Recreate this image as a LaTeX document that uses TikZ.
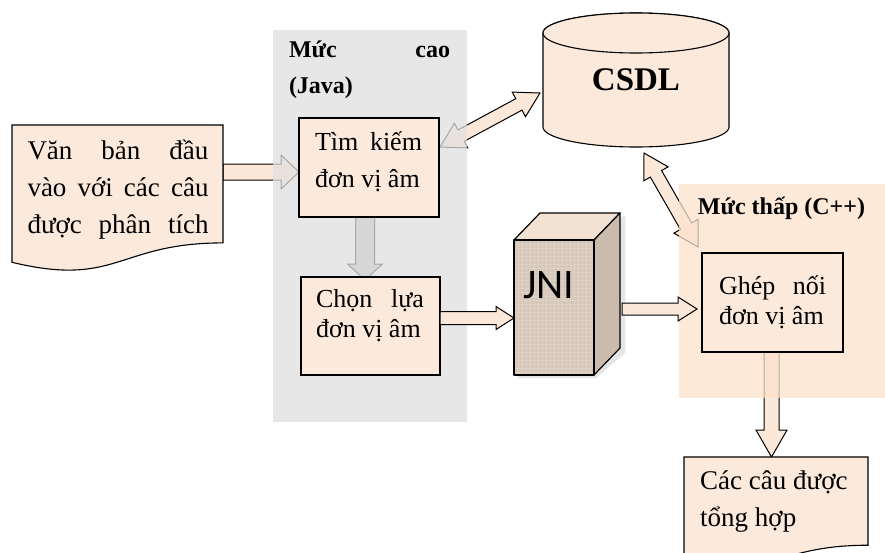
\documentclass[tikz,border=0pt]{standalone}
\usepackage{fontspec}
\setmainfont{Liberation Serif}
\newfontfamily\jnifont{Carlito}
\usetikzlibrary{calc}

\pgfdeclarelayer{under}
\pgfdeclarelayer{veil}
\pgfsetlayers{under,veil,main}

\definecolor{boxfill}{HTML}{FBEADC}
\definecolor{arrowfill}{HTML}{FCE8D8}
\definecolor{arrowgray}{RGB}{185,185,185}
\definecolor{javaveil}{RGB}{224,224,224}
\definecolor{cppveil}{RGB}{252,226,204}
\definecolor{jnifront}{HTML}{D6C7B9}
\definecolor{jnitop}{HTML}{F1E1D3}
\definecolor{jniside}{HTML}{CBBBAD}

% block arrow: [style]{from}{to}{shaft half width}{head half width}{head length}
\newcommand\blockarrow[6][]{%
  \draw[#1] let \p1=($(#3)-(#2)$), \n1={atan2(\y1,\x1)}, \n2={veclen(\x1,\y1)} in
    ($(#2)+(\n1+90:#4pt)$)
    -- ($(#2)+(\n1:{\n2-#6pt})+(\n1+90:#4pt)$)
    -- ($(#2)+(\n1:{\n2-#6pt})+(\n1+90:#5pt)$)
    -- (#3)
    -- ($(#2)+(\n1:{\n2-#6pt})+(\n1-90:#5pt)$)
    -- ($(#2)+(\n1:{\n2-#6pt})+(\n1-90:#4pt)$)
    -- ($(#2)+(\n1-90:#4pt)$) -- cycle;}

% two-headed block arrow, same arguments
\newcommand\dblarrow[6][]{%
  \draw[#1] let \p1=($(#3)-(#2)$), \n1={atan2(\y1,\x1)}, \n2={veclen(\x1,\y1)} in
    (#2)
    -- ($(#2)+(\n1:#6pt)+(\n1+90:#5pt)$)
    -- ($(#2)+(\n1:#6pt)+(\n1+90:#4pt)$)
    -- ($(#2)+(\n1:{\n2-#6pt})+(\n1+90:#4pt)$)
    -- ($(#2)+(\n1:{\n2-#6pt})+(\n1+90:#5pt)$)
    -- (#3)
    -- ($(#2)+(\n1:{\n2-#6pt})+(\n1-90:#5pt)$)
    -- ($(#2)+(\n1:{\n2-#6pt})+(\n1-90:#4pt)$)
    -- ($(#2)+(\n1:#6pt)+(\n1-90:#4pt)$)
    -- ($(#2)+(\n1:#6pt)+(\n1-90:#5pt)$)
    -- cycle;}

% document outline with a wavy bottom edge around a named node
\newcommand\docshape[2]{%
  \draw[#1] (#2.north west) -- (#2.north east)
    -- ($(#2.north east)!0.802!(#2.south east)$)
    .. controls ($(#2.north)!0.802!(#2.south)$) and ($(#2.north)!1.107!(#2.south)$)
    .. ($(#2.north west)!0.934!(#2.south west)$) -- cycle;}

\begin{document}
\begin{tikzpicture}[x=1pt,y=-1pt,
  box/.style={draw=black, line width=1.1pt, fill=boxfill},
  frame/.style={inner sep=0pt, outer sep=0pt},
  txt/.style={font=\fontsize{27}{37}\selectfont, align=left, inner sep=0pt},
  txtbox/.style={font=\fontsize{26}{37}\selectfont, align=left, inner sep=0pt},
  txtsm/.style={font=\fontsize{26}{30}\selectfont, align=left, inner sep=0pt},
  heading/.style={font=\bfseries\fontsize{24}{36}\selectfont, align=left, inner sep=0pt},
  blk/.style={draw=black, line width=1pt, line join=miter, fill=arrowfill},
  blkgray/.style={draw=black, line width=1pt, line join=miter, fill=arrowgray},
  solid3d/.style={draw=black, line width=1.2pt, line join=round},
  jnigrid/.style={white, line width=0.4pt, opacity=0.15},
]
\useasboundingbox (0,0) rectangle (885,552);

% frames that the shapes are drawn on
\node[frame, minimum width=211pt, minimum height=147pt] (indoc) at (117.5,198.5) {};
\node[frame, minimum width=184pt, minimum height=110pt] (cc) at (776,512) {};
\node[frame, minimum width=186pt, minimum height=134pt] (db) at (636,80) {};
\node[frame, minimum width=80pt, minimum height=135pt] (jni) at (554,307.5) {};

% process boxes
\node[box, frame, minimum width=140pt, minimum height=99pt] (tk) at (369,167.5) {};
\node[box, frame, minimum width=139pt, minimum height=98pt] (cl) at (370.5,326) {};
\node[box, frame, minimum width=141pt, minimum height=99pt] (gh) at (772.5,302.5) {};

% arrow end points
\coordinate (a1s) at ($(indoc.east |- tk.west)+(0,4.5)$);
\coordinate (a1e) at ($(tk.west)+(0,4.5)$);
\coordinate (a2s) at ($(tk.south)+(-4,0)$);
\coordinate (a2e) at ($(a2s |- cl.north)+(0,3)$);
\coordinate (a3s) at ($(cl.east)+(0,-8)$);
\coordinate (a3e) at (jni.west |- a3s);
\coordinate (a4e) at ($(gh.west)+(-5,6.5)$);
\coordinate (a4s) at ($(jni.east |- a4e)+(28,0)$);
\coordinate (a5s) at ($(gh.south)+(-1,0)$);
\coordinate (a5e) at (a5s |- cc.north);
\coordinate (a6a) at ($(tk.east)+(1,-20.5)$);
\coordinate (a6b) at ($(db.west)+(-3,13)$);
\coordinate (a7a) at ($(db.south)+(8,6)$);
\coordinate (a7b) at ($(gh.north west)+(-4,-6)$);

% lowest layer: page and the arrows seen through the panels
\begin{pgfonlayer}{under}
  \fill[white] (0,0) rectangle (885,552);
  \blockarrow[blk]{a1s}{a1e}{8}{17}{18}
  \blockarrow[blkgray]{a2s}{a2e}{9.5}{17.5}{16}
  \blockarrow[blk]{a5s}{a5e}{7.5}{15.5}{27}
  \dblarrow[blk]{a6a}{a6b}{6.5}{14}{24}
  \dblarrow[blk]{a7a}{a7b}{6.5}{14}{24}
\end{pgfonlayer}

% translucent level panels
\begin{pgfonlayer}{veil}
  \fill[javaveil, fill opacity=0.75] (273,30) rectangle (467,422);
  \fill[cppveil, fill opacity=0.75] (679,184) rectangle (885,398);
\end{pgfonlayer}

% documents
\docshape{box}{indoc}
\docshape{box}{cc}

% database cylinder
\path[box] ([yshift=-20pt]db.north west) -- ([yshift=20pt]db.south west)
  arc[start angle=180, end angle=360, x radius=93pt, y radius=20pt]
  -- ([yshift=-20pt]db.north east)
  arc[start angle=0, end angle=180, x radius=93pt, y radius=20pt] -- cycle;
\draw[box] ([yshift=-20pt]db.north) ellipse [x radius=93pt, y radius=20pt];

% JNI block
\fill[gray!40, opacity=0.5] ([xshift=3pt,yshift=-3pt]jni.north east) -- ++(26pt,27pt) -- ++(2pt,0)
  -- ++(0,-137pt) -- ([xshift=2pt,yshift=-3pt]jni.south east) -- ([xshift=3pt,yshift=-3pt]jni.south west) -- cycle;
\filldraw[solid3d, fill=jnitop] (jni.north west) -- ++(26pt,27pt) -- ++(80pt,0) -- (jni.north east) -- cycle;
\filldraw[solid3d, fill=jniside] (jni.north east) -- ++(26pt,27pt) -- ++(0,-135pt) -- (jni.south east) -- cycle;
\fill[jnifront] (jni.south west) rectangle (jni.north east);
\begin{scope}
  \clip (jni.south west) rectangle (jni.north east);
  \foreach \k in {0,4,...,136} \draw[jnigrid] ($(jni.north west)+(0,\k)$) -- ++(80pt,0);
  \foreach \k in {0,4,...,80} \draw[jnigrid] ($(jni.north west)+(\k,0)$) -- ++(0,-135pt);
\end{scope}
\draw[solid3d] (jni.south west) rectangle (jni.north east);

% arrows drawn over the panels
\blockarrow[blk]{a3s}{a3e}{6.5}{11.5}{18}
\blockarrow[blk]{a4s}{a4e}{6}{12}{19}

% texts
\node[heading] (hjava) at (369.5,70) {\makebox[161pt][s]{Mức cao}\\(Java)};
\node[heading] (hcpp) at (781.5,208) {Mức thấp (C++)};
\node[font=\bfseries\fontsize{33}{36}\selectfont, inner sep=0pt] (dbtext) at (636,80) {CSDL};
\node[font=\jnifont\fontsize{42}{44}\selectfont, inner sep=0pt] (jnitext) at (549,285) {JNI};
\node[txt] (indoctext) at (118,190) {\makebox[181pt][s]{Văn bản đầu}\\\makebox[181pt][s]{vào với các câu}\\\makebox[181pt][s]{được phân tích}};
\node[txtbox] (tktext) at (368.5,162) {\makebox[107pt][s]{Tìm kiếm}\\đơn vị âm};
\node[txtsm] (cltext) at (370,316) {\makebox[108pt][s]{Chọn lựa}\\đơn vị âm};
\node[txtsm] (ghtext) at (772.5,302) {\makebox[107pt][s]{Ghép nối}\\đơn vị âm};
\node[txt, anchor=west] (cctext) at (700,502) {Các câu được\\tổng hợp};
\end{tikzpicture}
\end{document}
